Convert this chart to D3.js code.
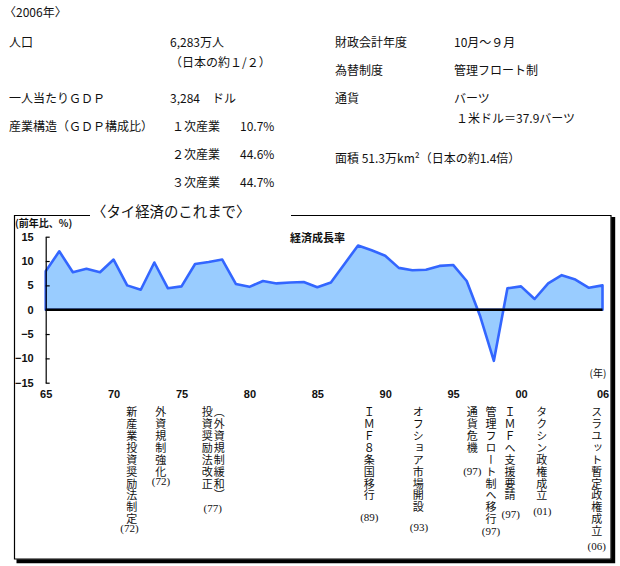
<!DOCTYPE html>
<html>
<head>
<meta charset="utf-8">
<script src="https://cdn.jsdelivr.net/npm/d3@7"></script>
<style>
  body { margin: 0; background: #fff; }
  svg text { font-family: "Noto Sans CJK JP", sans-serif; fill: #111; }
  .num { font-family: "Liberation Sans", Arial, sans-serif; font-weight: bold; }
</style>
</head>
<body>
<div id="chart"></div>
<script>
//////////////////////////////////////////////////////////////////////////////
// Data

var years = [1965, 1966, 1967, 1968, 1969, 1970, 1971, 1972, 1973, 1974,
             1975, 1976, 1977, 1978, 1979, 1980, 1981, 1982, 1983, 1984,
             1985, 1986, 1987, 1988, 1989, 1990, 1991, 1992, 1993, 1994,
             1995, 1996, 1997, 1998, 1999, 2000, 2001, 2002, 2003, 2004,
             2005, 2006];

var growth = [7.9, 12.0, 7.7, 8.4, 7.7, 10.3, 5.0, 4.1, 9.7, 4.4,
              4.8, 9.4, 9.8, 10.3, 5.3, 4.7, 5.9, 5.4, 5.6, 5.7,
              4.6, 5.6, 9.4, 13.2, 12.2, 11.1, 8.6, 8.1, 8.2, 9.0,
              9.2, 5.9, -1.4, -10.5, 4.4, 4.8, 2.2, 5.4, 7.1, 6.2,
              4.5, 5.0];

var xTickYears  = [1965, 1970, 1975, 1980, 1985, 1990, 1995, 2000, 2006];
var xTickLabels = ["65", "70", "75", "80", "85", "90", "95", "00", "06"];
var yTicks = [15, 10, 5, 0, -5, -10, -15];

var infoLeft = [
    ["人口", "6,283万人"],
    ["", "（日本の約１/２）"],
    ["一人当たりＧＤＰ", "3,284　ドル"],
    ["産業構造（ＧＤＰ構成比）", ""]
];
var sectorNames  = ["１次産業", "２次産業", "３次産業"];
var sectorShares = ["10.7%", "44.6%", "44.7%"];
var infoRight = [
    ["財政会計年度", "10月～９月"],
    ["為替制度", "管理フロート制"],
    ["通貨", "バーツ"],
    ["", "１米ドル＝37.9バーツ"]
];
var areaText = "面積 51.3万km²（日本の約1.4倍）";

var noteTexts = [
    ["新産業投資奨励法制定"],
    ["外資規制強化"],
    ["（外資規制緩和）", "投資奨励法改正"],
    ["ＩＭＦ８条国移行"],
    ["オフショア市場開設"],
    ["通貨危機"],
    ["管理フロート制へ移行"],
    ["ＩＭＦへ支援要請"],
    ["タクシン政権成立"],
    ["スラユット暫定政権成立"]
];
var noteYears = ["(72)", "(72)", "(77)", "(89)", "(93)", "(97)", "(97)", "(97)", "(01)", "(06)"];

//////////////////////////////////////////////////////////////////////////////
// Layout

var W = 620, H = 566;
var plot = { left: 45.7, right: 602.5, top: 236.7, bottom: 382.7 };
var noteColX  = [[131.7], [160.7], [219.3, 207.3], [369.3], [418.3], [472.3], [491], [510], [541.7], [596.7]];
var noteYearX = [129.5, 161, 212.7, 369.3, 419, 472.3, 491, 510.7, 542.3, 596.7];
var noteYearY = [528, 480.7, 508, 517.3, 526.7, 471, 530.7, 514.3, 511, 546];

var svg = d3.select("#chart").append("svg")
    .attr("width", W)
    .attr("height", H);

// header text
svg.append("text")
    .attr("x", 4).attr("y", 13)
    .attr("dy", "0.35em")
    .style("font-size", "12px")
    .text("〈2006年〉");

var leftRowY = [43, 63, 99, 127];
infoLeft.forEach(function(r, i) {
    svg.append("text").attr("x", 9).attr("y", leftRowY[i]).attr("dy", "0.35em")
        .style("font-size", "12px").text(r[0]);
    svg.append("text").attr("x", 170).attr("y", leftRowY[i]).attr("dy", "0.35em")
        .style("font-size", "12px").text(r[1]);
});
var sectorY = [127, 155, 183];
sectorNames.forEach(function(s, i) {
    svg.append("text").attr("x", 172).attr("y", sectorY[i]).attr("dy", "0.35em")
        .style("font-size", "12px").text(s);
    svg.append("text").attr("x", 240).attr("y", sectorY[i]).attr("dy", "0.35em")
        .style("font-size", "12px").text(sectorShares[i]);
});
var rightRowY = [43, 71, 99, 119];
infoRight.forEach(function(r, i) {
    svg.append("text").attr("x", 335).attr("y", rightRowY[i]).attr("dy", "0.35em")
        .style("font-size", "12px").text(r[0]);
    svg.append("text").attr("x", i == 3 ? 456 : 454).attr("y", rightRowY[i]).attr("dy", "0.35em")
        .style("font-size", "12px").text(r[1]);
});
svg.append("text").attr("x", 335).attr("y", 159).attr("dy", "0.35em")
    .style("font-size", "12px").text(areaText);

// frame with shadow
svg.append("path")
    .attr("d", "M 16.5 561.2 L 613.2 561.2 L 613.2 217")
    .attr("fill", "none")
    .attr("stroke", "#000")
    .attr("stroke-width", 4);
svg.append("path")
    .attr("d", "M 90 215.5 L 14.5 215.5 L 14.5 559 L 611 559 L 611 215.5 L 291 215.5")
    .attr("fill", "none")
    .attr("stroke", "#000")
    .attr("stroke-width", 1.2);
svg.append("text")
    .attr("x", 92).attr("y", 212)
    .attr("dy", "0.35em")
    .style("font-size", "14.4px")
    .text("〈タイ経済のこれまで〉");

//////////////////////////////////////////////////////////////////////////////
// Chart

var x = d3.scaleLinear().domain([1965, 2006]).range([plot.left, plot.right]);
var y = d3.scaleLinear().domain([-15, 15]).range([plot.bottom, plot.top]);

var data = years.map(function(yr, i) { return { year: yr, v: growth[i] }; });

var area = d3.area()
    .x(function(d) { return x(d.year); })
    .y0(y(0))
    .y1(function(d) { return y(d.v); });

svg.append("path")
    .datum(data)
    .attr("d", area)
    .attr("fill", "#99ccff")
    .attr("stroke", "#3366ff")
    .attr("stroke-width", 2.6)
    .attr("stroke-linejoin", "round");

// y axis
var yAxis = svg.append("g")
    .attr("class", "num")
    .attr("transform", "translate(" + plot.left + ",0)")
    .call(d3.axisLeft(y).tickValues(yTicks).tickSizeInner(-4).tickSizeOuter(0).tickPadding(12));
yAxis.select(".domain").attr("stroke", "#000").attr("stroke-width", 1.2);
yAxis.selectAll(".tick line").attr("stroke", "#000").attr("stroke-width", 1.2);
yAxis.selectAll("text")
    .style("font-family", "'Liberation Sans', Arial, sans-serif")
    .style("font-weight", "bold")
    .style("font-size", "11px")
    .attr("fill", "#111");

// zero line
svg.append("line")
    .attr("x1", x(1965)).attr("x2", x(2006))
    .attr("y1", y(0)).attr("y2", y(0))
    .attr("stroke", "#000")
    .attr("stroke-width", 2.6);

// x axis labels
var xAxis = svg.append("g")
    .attr("transform", "translate(0," + plot.bottom + ")")
    .call(d3.axisBottom(x).tickValues(xTickYears)
        .tickFormat(function(d, i) { return xTickLabels[i]; })
        .tickSize(0).tickPadding(8));
xAxis.select(".domain").remove();
xAxis.selectAll("text")
    .style("font-family", "'Liberation Sans', Arial, sans-serif")
    .style("font-weight", "bold")
    .style("font-size", "11px")
    .attr("fill", "#111");

svg.append("text")
    .attr("x", 15).attr("y", 223).attr("dy", "0.35em")
    .style("font-size", "10px").style("font-weight", "bold")
    .text("(前年比、%)");
svg.append("text")
    .attr("x", 290).attr("y", 238).attr("dy", "0.35em")
    .style("font-size", "11px").style("font-weight", "bold")
    .text("経済成長率");
svg.append("text")
    .attr("x", 598).attr("y", 373).attr("dy", "0.35em")
    .attr("text-anchor", "middle")
    .style("font-size", "10px")
    .text("(年)");

// event notes, vertical text
noteTexts.forEach(function(cols, i) {
    cols.forEach(function(t, j) {
        svg.append("text")
            .attr("x", noteColX[i][j])
            .attr("y", 406.5)
            .style("writing-mode", "vertical-rl")
            .style("font-size", "11px")
            .style("letter-spacing", "0.9px")
            .attr("fill", "#222")
            .text(t);
    });
    svg.append("text")
        .attr("x", noteYearX[i])
        .attr("y", noteYearY[i])
        .attr("dy", "0.35em")
        .attr("text-anchor", "middle")
        .style("font-family", "'Liberation Serif', serif")
        .style("font-size", "11px")
        .attr("fill", "#222")
        .text(noteYears[i]);
});
</script>
</body>
</html>
